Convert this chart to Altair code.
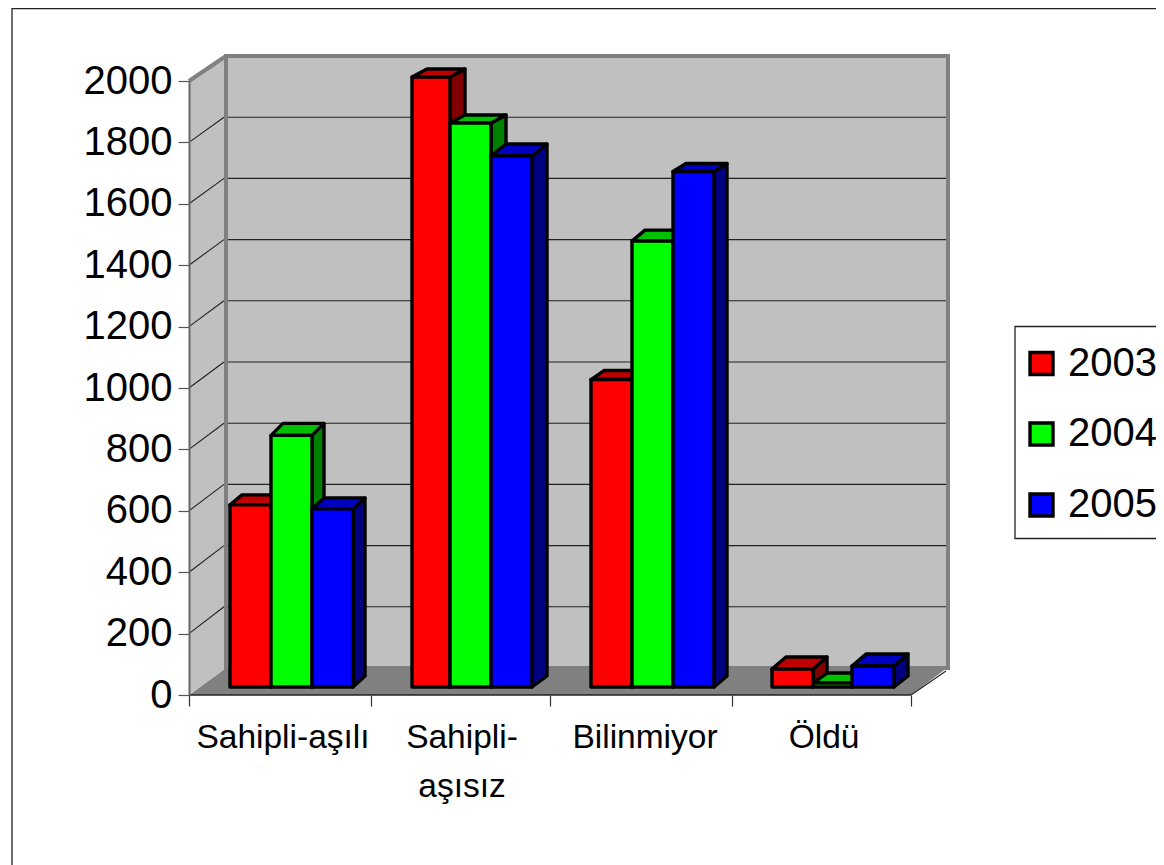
import altair as alt
import pandas as pd

categories = ["Sahipli-aşılı", "Sahipli-\naşısız", "Bilinmiyor", "Öldü"]
series = ["2003", "2004", "2005"]
values_2003 = [597, 2000, 1008, 59]
values_2004 = [825, 1849, 1462, 13]
values_2005 = [584, 1741, 1690, 69]
y_ticks = [0, 200, 400, 600, 800, 1000, 1200, 1400, 1600, 1800, 2000]

front_colors = ["#ff0000", "#00ff00", "#0000ff"]
top_colors = ["#c00000", "#00c000", "#0000c0"]
side_colors = ["#800000", "#008000", "#000080"]

# geometry of the pseudo-3D box, in screen pixels of the frame
F = "Liberation Sans"
X_L, X_R = 189, 911          # front floor edge
BX_L, BX_R = 226, 948        # back wall
F0, F_K = 695, 0.307         # front plane: y of 0, px per unit
B0, B_K = 668, 0.306         # back plane
M0, M_K = 687, 0.305         # bar plane
cat_ticks = [189, 371, 550, 732, 911]
cat_x = [283, 462, 645, 824]
bar_edges = [[230, 271, 312, 353], [412, 450, 491, 532], [591, 632, 673, 714], [772, 813, 852, 894]]
depth_x = [12, 15, 13, 14]
depth_top = [[10, 12, 11], [8, 8, 12], [9, 11, 8], [12, 10, 12]]
depth_base = 11


def Y(py):
    return (F0 - py) / F_K


xs = alt.Scale(domain=[189, 1156], nice=False, zero=False)
ys = alt.Scale(domain=[0, 2000], nice=False, zero=False)
x_axis = alt.Axis(values=cat_ticks, labels=False, domain=False, tickSize=11, tickColor="#333333",
                  tickWidth=1.2, grid=False, orient="bottom", zindex=1, title=None)
y_axis = alt.Axis(values=y_ticks, tickSize=11, tickColor="#555555", tickWidth=1.2, domainColor="#666666",
                  domainWidth=2, labelFont=F, labelFontSize=40, labelColor="#000000", labelPadding=6,
                  grid=False, format="d", labelOverlap=False, labelBound=False, labelFlush=False,
                  zindex=1, title=None)
X_ = alt.X("x:Q", scale=xs, axis=x_axis)
Y_ = alt.Y("y:Q", scale=ys, axis=y_axis)
X2_ = alt.X2("x2:Q")
Y2_ = alt.Y2("y2:Q")

layers = []

# outer frame
layers.append(alt.Chart(pd.DataFrame({"x": [12], "y": [Y(8.6)], "x2": [1170], "y2": [Y(875)]}))
              .mark_rect(fill="#ffffff", stroke="#222222", strokeWidth=1.3)
              .encode(x=X_, y=Y_, x2=X2_, y2=Y2_))

# floor
layers.append(alt.Chart(pd.DataFrame({"y": [0, Y(B0)], "x": [X_L, BX_L], "x2": [X_R, BX_R - 1]}))
              .mark_area(orient="horizontal", fill="#808080")
              .encode(x=X_, x2=X2_, y=Y_))
# left wall
layers.append(alt.Chart(pd.DataFrame({"x": [X_L, BX_L], "y": [0, Y(B0)], "y2": [2000, Y(B0 - B_K * 2000)]}))
              .mark_area(orient="vertical", fill="#c0c0c0")
              .encode(x=X_, y=Y_, y2=Y2_))
# back wall
layers.append(alt.Chart(pd.DataFrame({"x": [BX_L], "x2": [BX_R], "y": [Y(B0)], "y2": [Y(B0 - B_K * 2000)]}))
              .mark_rect(fill="#c0c0c0", stroke="#808080", strokeWidth=4)
              .encode(x=X_, x2=X2_, y=Y_, y2=Y2_))
# wall top edge
layers.append(alt.Chart(pd.DataFrame({"x": [X_L], "x2": [BX_L], "y": [2000], "y2": [Y(B0 - B_K * 2000)]}))
              .mark_rule(color="#808080", strokeWidth=4)
              .encode(x=X_, x2=X2_, y=Y_, y2=Y2_))
# floor strip below the back wall edge
layers.append(alt.Chart(pd.DataFrame({"y": [Y(B0 + 1), Y(B0 - 2)], "x": [BX_L - 2, BX_L + 2], "x2": [BX_R - 2, BX_R - 2]}))
              .mark_area(orient="horizontal", fill="#808080")
              .encode(x=X_, x2=X2_, y=Y_))
# gridlines
g = [v for v in y_ticks if 0 < v < 2000]
layers.append(alt.Chart(pd.DataFrame({"x": [BX_L + 2] * len(g), "x2": [BX_R - 2] * len(g),
                                      "y": [Y(B0 - B_K * v) for v in g]}))
              .mark_rule(color="#222222", strokeWidth=1.1).encode(x=X_, x2=X2_, y=Y_))
layers.append(alt.Chart(pd.DataFrame({"x": [X_L] * len(g), "x2": [BX_L - 2] * len(g), "y": g,
                                      "y2": [Y(B0 - B_K * v) for v in g]}))
              .mark_rule(color="#222222", strokeWidth=1.1).encode(x=X_, x2=X2_, y=Y_, y2=Y2_))
# floor front edge and right edge
layers.append(alt.Chart(pd.DataFrame({"x": [X_L], "x2": [X_R], "y": [0]}))
              .mark_rule(color="#222222", strokeWidth=1.4).encode(x=X_, x2=X2_, y=Y_))
layers.append(alt.Chart(pd.DataFrame({"x": [X_R], "x2": [BX_R - 2], "y": [0], "y2": [Y(B0 + 3)]}))
              .mark_rule(color="#222222", strokeWidth=1.2).encode(x=X_, x2=X2_, y=Y_, y2=Y2_))

# bars, drawn left to right
all_values = [values_2003, values_2004, values_2005]
bar_style = dict(stroke="#000000", strokeWidth=3.4, strokeJoin="round")
for c in range(len(categories)):
    dx = depth_x[c]
    for s in range(len(series)):
        v = all_values[s][c]
        x0, x1 = bar_edges[c][s], bar_edges[c][s + 1]
        top = M0 - M_K * v
        dy = depth_top[c][s]
        # side
        layers.append(alt.Chart(pd.DataFrame({"x": [x1, x1 + dx],
                                              "y": [Y(M0), Y(M0 - depth_base)],
                                              "y2": [Y(top), Y(top - dy)]}))
                      .mark_area(orient="vertical", fill=side_colors[s], **bar_style)
                      .encode(x=X_, y=Y_, y2=Y2_))
        # top
        layers.append(alt.Chart(pd.DataFrame({"y": [Y(top), Y(top - dy)],
                                              "x": [x0, x0 + dx], "x2": [x1, x1 + dx]}))
                      .mark_area(orient="horizontal", fill=top_colors[s], **bar_style)
                      .encode(x=X_, x2=X2_, y=Y_))
        # front
        layers.append(alt.Chart(pd.DataFrame({"x": [x0], "x2": [x1], "y": [Y(M0)], "y2": [Y(top)]}))
                      .mark_rect(fill=front_colors[s], **bar_style)
                      .encode(x=X_, x2=X2_, y=Y_, y2=Y2_))

# category labels
layers.append(alt.Chart(pd.DataFrame({"x": cat_x, "y": [Y(748)] * 4, "t": categories}))
              .mark_text(font=F, fontSize=33.5, color="#000000", align="center", baseline="alphabetic",
                         lineBreak="\n", lineHeight=49)
              .encode(x=X_, y=Y_, text="t:N"))

# legend
layers.append(alt.Chart(pd.DataFrame({"x": [1015], "x2": [1175], "y": [Y(326.5)], "y2": [Y(538.5)]}))
              .mark_rect(fill="#ffffff", stroke="#222222", strokeWidth=1.3)
              .encode(x=X_, x2=X2_, y=Y_, y2=Y2_))
leg_y = [363.5, 434, 505]
layers.append(alt.Chart(pd.DataFrame({"x": [1030] * 3, "x2": [1053] * 3,
                                      "y": [Y(p + 11) for p in leg_y], "y2": [Y(p - 11) for p in leg_y],
                                      "c": series}))
              .mark_rect(stroke="#000000", strokeWidth=3.4)
              .encode(x=X_, x2=X2_, y=Y_, y2=Y2_,
                      fill=alt.Fill("c:N", scale=alt.Scale(domain=series, range=front_colors), legend=None)))
layers.append(alt.Chart(pd.DataFrame({"x": [1068] * 3, "y": [Y(p + 12) for p in leg_y], "t": series}))
              .mark_text(font=F, fontSize=40, color="#000000", align="left", baseline="alphabetic")
              .encode(x=X_, y=Y_, text="t:N"))

chart = alt.layer(*layers).properties(
    width=967, height=614,
    padding={"left": 181, "top": 73, "right": 0, "bottom": 170},
    autosize=alt.AutoSizeParams(type="none"),
    background="#ffffff",
).configure_view(stroke=None)

chart.save("out.html", embed_options={"renderer": "svg", "actions": False})
